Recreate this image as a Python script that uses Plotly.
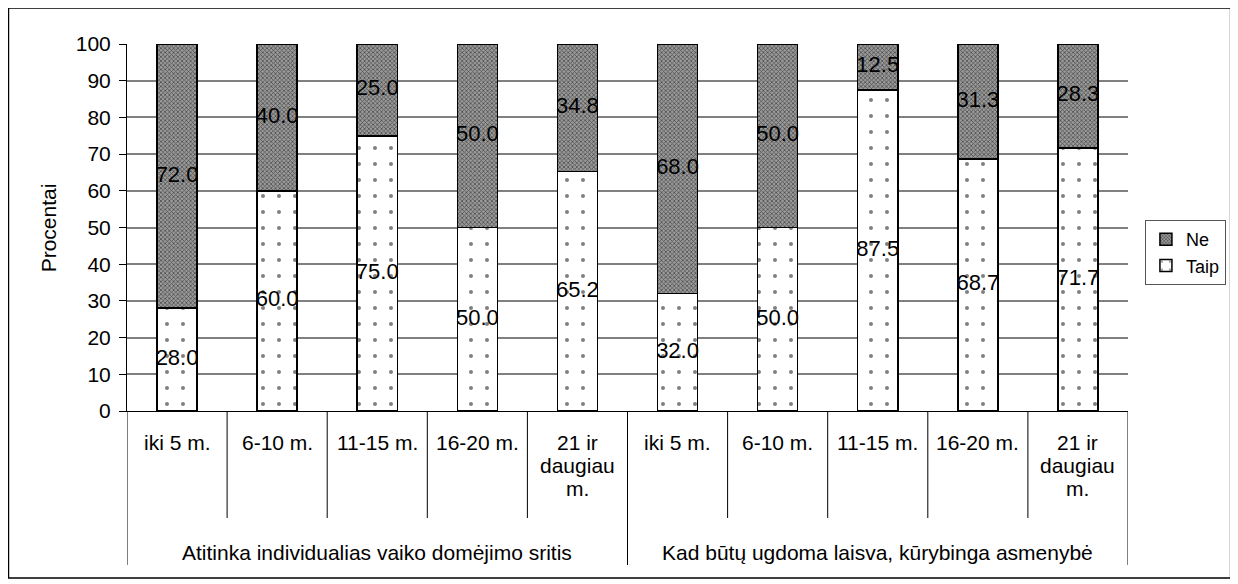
import plotly.graph_objects as go

# Data
categories = ["iki 5 m.", "6-10 m.", "11-15 m.", "16-20 m.", "21 ir<br>daugiau<br>m.",
              "iki 5 m.", "6-10 m.", "11-15 m.", "16-20 m.", "21 ir<br>daugiau<br>m."]
groups = ["Atitinka individualias vaiko domėjimo sritis",
          "Kad būtų ugdoma laisva, kūrybinga asmenybė"]
taip = [28.0, 60.0, 75.0, 50.0, 65.2, 32.0, 50.0, 87.5, 68.7, 71.7]
ne = [72.0, 40.0, 25.0, 50.0, 34.8, 68.0, 50.0, 12.5, 31.3, 28.3]
y_ticks = [0, 10, 20, 30, 40, 50, 60, 70, 80, 90, 100]

FONT = "Liberation Sans, Arial, sans-serif"
FS = 21

# the page body adds an 8px margin, so the figure is drawn 8px smaller
OFF = 8
W, H = 1238 - OFF, 584 - OFF
L, R, T, B = 127 - OFF, 106, 44 - OFF, 173
plot_h = H - T - B
plot_w = W - L - R


def py(pix):
    # screen pixel row -> paper y
    return (H - B - (pix - OFF)) / plot_h


def px(pix):
    return (pix - OFF - L) / plot_w


xs = list(range(len(categories)))

fig = go.Figure()
fig.add_trace(go.Bar(
    x=xs, y=taip, name="Taip", width=0.4,
    marker=dict(color="white", line=dict(color="black", width=1.5),
                pattern=dict(shape=".", size=16, solidity=0.05,
                             fgcolor="black", bgcolor="white")),
))
fig.add_trace(go.Bar(
    x=xs, y=ne, name="Ne", width=0.4,
    marker=dict(color="white", line=dict(color="black", width=1.5),
                pattern=dict(shape="x", size=3, solidity=0.45,
                             fgcolor="black", bgcolor="#9a9a9a")),
))

# value labels at segment centres
lab_x = xs + xs
lab_y = [t / 2 for t in taip] + [t + n / 2 for t, n in zip(taip, ne)]
lab_t = [f"{v:.1f}" for v in taip] + [f"{v:.1f}" for v in ne]
fig.add_trace(go.Scatter(
    x=lab_x, y=lab_y, text=lab_t, mode="text", showlegend=False,
    textfont=dict(family=FONT, size=22, color="black"), hoverinfo="skip",
))

shapes = []
annotations = []

# category dividers and labels
for i, c in enumerate(categories):
    if i > 0 and i != 5:
        shapes.append(dict(type="line", xref="x", yref="paper", x0=i - 0.5, x1=i - 0.5,
                           y0=0, y1=py(518), line=dict(color="black", width=1)))
    for j, part in enumerate(c.split("<br>")):
        annotations.append(dict(x=i, y=py(442 + 23 * j), xref="x", yref="paper",
                                text=part, showarrow=False, yanchor="middle",
                                font=dict(family=FONT, size=FS, color="black")))

# group dividers and labels
for gx in [-0.5, 4.5, 9.5]:
    shapes.append(dict(type="line", xref="x", yref="paper", x0=gx, x1=gx,
                       y0=0, y1=py(565), line=dict(color="black", width=1)))
for k, g in enumerate(groups):
    annotations.append(dict(x=2 + 5 * k, y=py(552), xref="x", yref="paper",
                            text=g, showarrow=False, yanchor="middle",
                            font=dict(family=FONT, size=FS, color="black")))

# y title
annotations.append(dict(x=px(48), y=py(228), xref="paper", yref="paper",
                        text="Procentai", textangle=-90, showarrow=False,
                        xanchor="center", yanchor="middle",
                        font=dict(family=FONT, size=FS, color="black")))

# outer frame
shapes.append(dict(type="rect", xref="paper", yref="paper",
                   x0=px(8), x1=px(1235), y0=py(578), y1=py(8),
                   line=dict(color="black", width=1.5), layer="below"))

fig.update_layout(
    width=W, height=H,
    margin=dict(l=L, r=R, t=T, b=B),
    barmode="stack",
    plot_bgcolor="white", paper_bgcolor="white",
    font=dict(family=FONT, size=FS, color="black"),
    showlegend=True,
    legend=dict(x=px(1149), y=py(220), xanchor="left", yanchor="top",
                traceorder="reversed", bordercolor="#555", borderwidth=1,
                bgcolor="white", font=dict(family=FONT, size=18),
                itemwidth=30, tracegroupgap=0),
    shapes=shapes,
    annotations=annotations,
)
fig.update_xaxes(range=[-0.5, 9.5], showgrid=False, zeroline=False,
                 showline=True, linecolor="black", linewidth=1,
                 showticklabels=False, ticks="")
fig.update_yaxes(range=[0, 100], tickvals=y_ticks, showgrid=True,
                 gridcolor="#808080", gridwidth=1.5, zeroline=False,
                 showline=True, linecolor="black", linewidth=1,
                 ticks="outside", ticklen=7, tickcolor="black",
                 ticklabelstandoff=4,
                 tickfont=dict(family=FONT, size=FS, color="black"))

fig.write_html("out.html")
